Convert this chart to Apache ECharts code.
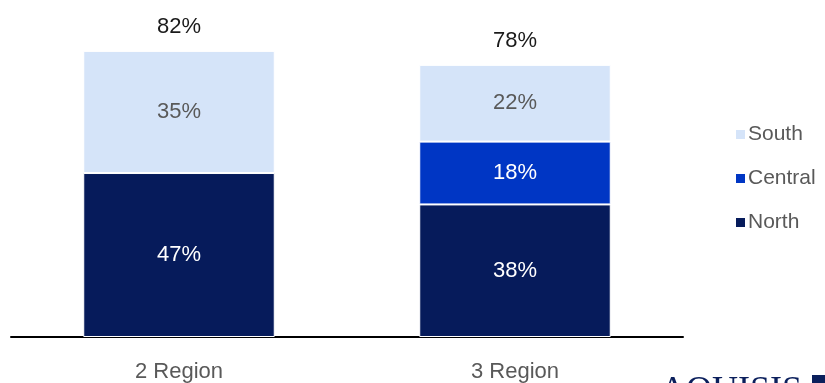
<!DOCTYPE html>
<html><head><meta charset="utf-8">
<script src="https://cdn.jsdelivr.net/npm/echarts@6/dist/echarts.min.js"></script>
<style>html,body{margin:0;padding:0;background:#fff}#c{width:825px;height:383px}</style>
</head><body><div id="c"></div>
<script>
const categories = ['2 Region', '3 Region'];
const north = [47, 38];
const central = [null, 18];
const south = [35, 22];
const seriesNames = ['North', 'Central', 'South'];
const colors = {North: '#061b5b', Central: '#0036c4', South: '#d5e4f9'};
const totals = categories.map((c, i) => (north[i] || 0) + (central[i] || 0) + (south[i] || 0));

const FONT = 'Liberation Sans';
const chart = echarts.init(document.getElementById('c'), null, {renderer: 'canvas'});
const segLabel = (color) => ({
  show: true, position: 'inside', color: color, fontFamily: FONT, fontSize: 22,
  formatter: p => p.value == null ? '' : p.value + '%'
});
chart.setOption({
  animation: false,
  grid: {left: 11, right: 142, top: 23, bottom: 46},
  legend: {
    data: ['South', 'Central', 'North'],
    orient: 'vertical', left: 729, top: 119,
    itemWidth: 11, itemHeight: 11, itemGap: 23,
    icon: 'rect',
    textStyle: {fontFamily: FONT, fontSize: 21, color: '#595959', lineHeight: 21, padding: [0, 0, 0, -3]}
  },
  xAxis: {
    type: 'category', data: categories,
    axisLine: {lineStyle: {color: '#000', width: 2}},
    axisTick: {show: false},
    axisLabel: {fontFamily: FONT, fontSize: 22, color: '#595959', margin: 24}
  },
  yAxis: {type: 'value', min: 0, max: 90, show: false, splitLine: {show: false}},
  series: [
    {name: 'North', type: 'bar', stack: 't', data: north, barWidth: '57%',
     itemStyle: {color: colors.North, borderColor: '#fff', borderWidth: 1},
     label: segLabel('#ffffff')},
    {name: 'Central', type: 'bar', stack: 't', data: central,
     itemStyle: {color: colors.Central, borderColor: '#fff', borderWidth: 1},
     label: segLabel('#ffffff')},
    {name: 'South', type: 'bar', stack: 't', data: south,
     itemStyle: {color: colors.South, borderColor: '#fff', borderWidth: 1},
     label: segLabel('#595959')},
    {name: 'Total', type: 'bar', stack: 't', data: totals.map(() => 0),
     itemStyle: {color: 'transparent'},
     label: {show: true, position: 'top', distance: 13, color: '#1a1a1a', fontFamily: FONT, fontSize: 22,
       formatter: p => totals[p.dataIndex] + '%'}}
  ],
  graphic: [
    {type: 'text', left: 660, top: 374, style: {text: 'AQUISIS', fontFamily: 'Liberation Serif', fontSize: 36, fill: '#0b1f5c'}},
    {type: 'rect', left: 812, top: 375, shape: {width: 14, height: 10}, style: {fill: '#0b1f5c'}}
  ]
});
</script></body></html>
